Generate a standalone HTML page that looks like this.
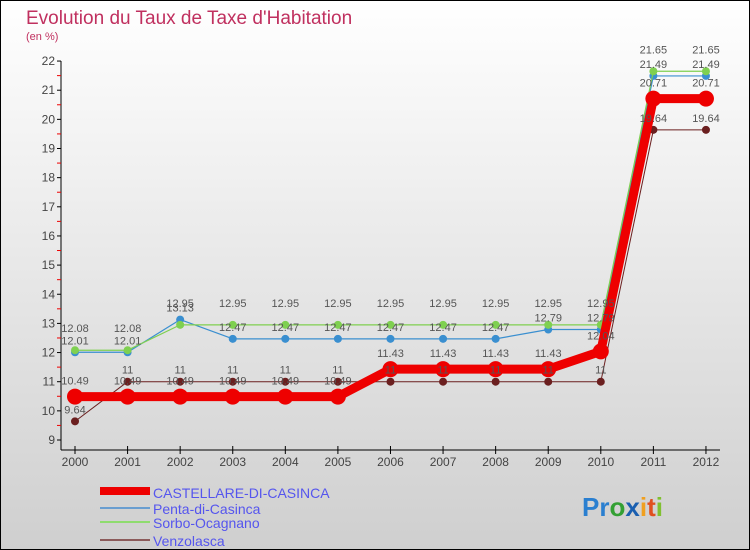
<!DOCTYPE html>
<html><head><meta charset="utf-8"><style>
body{margin:0;width:750px;height:550px;overflow:hidden}
svg{display:block;font-family:"Liberation Sans",sans-serif}
</style></head><body>
<svg width="750" height="550" viewBox="0 0 750 550">
<defs><linearGradient id="bg" x1="0" y1="0" x2="0" y2="1"><stop offset="0" stop-color="#ffffff"/><stop offset="1" stop-color="#cfcfcf"/></linearGradient></defs>
<rect x="0.5" y="0.5" width="749" height="549" fill="url(#bg)" stroke="#000"/>
<text x="26" y="24" font-size="19" fill="#c0305f">Evolution du Taux de Taxe d'Habitation</text>
<text x="26" y="40" font-size="11" fill="#c0305f">(en %)</text>
<g id="axes"></g><g id="series"></g><g id="labels"></g>
<g>
<rect x="100" y="487" width="50" height="8" fill="#e00"/>
<text x="153" y="498" font-size="14" fill="#5555ee">CASTELLARE-DI-CASINCA</text>
<rect x="100" y="507" width="50" height="2" fill="#6a9ed0"/>
<text x="153" y="514" font-size="14" fill="#5555ee">Penta-di-Casinca</text>
<rect x="100" y="521" width="50" height="2" fill="#8fdc6f"/>
<text x="153" y="528" font-size="14" fill="#5555ee">Sorbo-Ocagnano</text>
<rect x="100" y="539" width="50" height="2" fill="#8b5a5a"/>
<text x="153" y="546" font-size="14" fill="#5555ee">Venzolasca</text>
</g>
<text x="582" y="516" font-size="26" font-weight="bold"><tspan fill="#2a7fd0">Pr</tspan><tspan fill="#33a033">o</tspan><tspan fill="#1a5fb0">x</tspan><tspan fill="#f0a020">i</tspan><tspan fill="#e05020">t</tspan><tspan fill="#80c030">i</tspan></text>
</svg>
<script>
const years=[2000,2001,2002,2003,2004,2005,2006,2007,2008,2009,2010,2011,2012];
const castellare=[10.49,10.49,10.49,10.49,10.49,10.49,11.43,11.43,11.43,11.43,12.04,20.71,20.71];
const penta=[12.01,12.01,13.13,12.47,12.47,12.47,12.47,12.47,12.47,12.79,12.79,21.49,21.49];
const sorbo=[12.08,12.08,12.95,12.95,12.95,12.95,12.95,12.95,12.95,12.95,12.95,21.65,21.65];
const venzolasca=[9.64,11,11,11,11,11,11,11,11,11,11,19.64,19.64];
const yTicks=[9,10,11,12,13,14,15,16,17,18,19,20,21,22];
const NS="http://www.w3.org/2000/svg";
const X=i=>75+i*52.58, Y=v=>440-(v-9)*29.15;
function mk(t,a,p){const e=document.createElementNS(NS,t);for(const k in a)e.setAttribute(k,a[k]);p.appendChild(e);return e;}
const ax=document.getElementById('axes');
let e=mk('line',{x1:61,y1:61,x2:61,y2:450,stroke:'#000'},ax);


e=mk('line',{x1:61,y1:450,x2:720,y2:450,stroke:'#000'},ax);


yTicks.forEach(v=>{
 mk('line',{x1:57,y1:Y(v),x2:61,y2:Y(v),stroke:'#000'},ax);
 if(v<22) mk('line',{x1:57,y1:Y(v+0.5),x2:61,y2:Y(v+0.5),stroke:'#e00'},ax);
 const t=mk('text',{x:55,y:Y(v)+4,'font-size':12,fill:'#444','text-anchor':'end'},ax);t.textContent=v;
 
 
});
years.forEach((y,i)=>{
 mk('line',{x1:X(i),y1:446,x2:X(i),y2:454,stroke:'#000'},ax);
 const t=mk('text',{x:X(i),y:466,'font-size':12,fill:'#444','text-anchor':'middle'},ax);t.textContent=y;
 
 
});
const sg=document.getElementById('series'),lg=document.getElementById('labels');
function draw(data,color,w,r,name,dy){
 const pts=data.map((v,i)=>X(i)+','+Y(v)).join(' ');
 const l=mk('polyline',{points:pts,fill:'none',stroke:color,'stroke-width':w,'stroke-linejoin':'round'},sg);
 
 
 data.forEach((v,i)=>{
  const c=mk('circle',{cx:X(i),cy:Y(v),r:r,fill:color},sg);
  
  
  const t=mk('text',{x:X(i),y:Y(v)+dy,'font-size':11,fill:'#555','text-anchor':'middle'},lg);t.textContent=v;
  
  
 });
}
draw(venzolasca,'#6b1f1f',1,4,'venzolasca',-8);
draw(penta,'#3a8fd0',1.2,4,'penta',-8);
draw(sorbo,'#7fd050',1.2,4,'sorbo',-18);
draw(castellare,'#ee0000',9,8,'castellare',-12);
</script>
</body></html>
